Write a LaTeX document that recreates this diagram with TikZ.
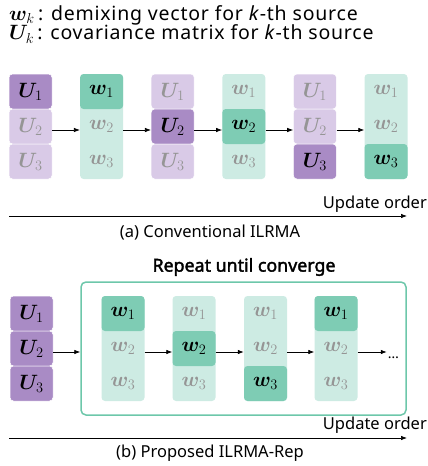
\documentclass[tikz,border=0pt]{standalone}
\usepackage{amsmath,bm}
\usepackage{fontspec}
\setmainfont{Noto Sans}
\newfontfamily\legfont{Noto Sans}[LetterSpace=4]
\newfontfamily\repfont{Noto Sans}[FakeBold=2]
\usetikzlibrary{arrows.meta}
\definecolor{pdark}{HTML}{A98BC5}
\definecolor{plight}{HTML}{D9CAE7}
\definecolor{tdark}{HTML}{7ECCB4}
\definecolor{tlight}{HTML}{CDEBE3}
\definecolor{tframe}{HTML}{6DC7AA}
\definecolor{tgray}{HTML}{959595}
\newcommand\mathcell[1]{{\fontsize{22}{22}\selectfont$#1$}}
\newcommand\legmath[1]{{\fontsize{22}{22}\selectfont$#1$}}
\tikzset{
  cellbase/.style={minimum width=43pt, minimum height=35pt, inner sep=0pt, rounded corners=3.5pt},
  ucell/.style={cellbase, draw=white, line width=0.5pt},
  wbg/.style={fill=tlight, rounded corners=3.5pt, minimum width=43pt, minimum height=105pt, inner sep=0pt},
  arr/.style={-{Latex[length=6pt,width=4.5pt]}, line width=0.7pt},
  txt/.style={font=\fontsize{16.5}{18}\selectfont, inner sep=0pt},
  legtxt/.style={font=\legfont\fontsize{19.5}{21}\selectfont, inner sep=0pt},
}
\newcommand\ucolumn[4]{%
  \foreach \i in {1,2,3}{%
    \ifnum\i=#4\relax \def\cf{pdark}\def\tc{black}\else
      \ifnum#4=9\relax \def\cf{pdark}\def\tc{black}\else\def\cf{plight}\def\tc{tgray}\fi\fi
    \node[ucell, fill=\cf, text=\tc] (#1-\i) at ({#2},{#3+17.5+35*(\i-1)}) {\mathcell{\bm{U}_{\i}}};
  }}
\newcommand\wcolumn[4]{%
  \node[wbg] (#1) at ({#2},{#3+52.5}) {};
  \foreach \i in {1,2,3}{%
    \ifnum\i=#4\relax
      \node[cellbase, fill=tdark, text=black] (#1-\i) at ({#2},{#3+17.5+35*(\i-1)}) {\mathcell{\bm{w}_{\i}}};
    \else
      \node[cellbase, text=tgray] (#1-\i) at ({#2},{#3+17.5+35*(\i-1)}) {\mathcell{\bm{w}_{\i}}};
    \fi}}
\begin{document}
\begin{tikzpicture}[x=1pt,y=-1pt]
\useasboundingbox (0,0) rectangle (428,466);
% legend
\node[legtxt, anchor=west] (leg1) at (9,15) {\legmath{\bm{w}_k}\,: demixing vector for \textit{k}-th source};
\node[legtxt, anchor=west] (leg2) at (9,34) {\legmath{\bm{U}_k}\,: covariance matrix for \textit{k}-th source};
% (a)
\ucolumn{a1}{30.5}{74}{1}
\wcolumn{a2}{101.6}{74}{1}
\ucolumn{a3}{172.7}{74}{2}
\wcolumn{a4}{243.8}{74}{2}
\ucolumn{a5}{314.9}{74}{3}
\wcolumn{a6}{386}{74}{3}
\foreach \p/\q in {a1/a2,a2/a3,a3/a4,a4/a5,a5/a6}
  \draw[arr] ([yshift=-3.5pt]\p-2.east) -- ([yshift=-3.5pt]\q-2.west);
\coordinate (oa-s) at (9,216);
\coordinate (oa-e) at (407,216);
\draw[arr] (oa-s) -- (oa-e);
\node[txt, anchor=east] (oa-t) at (427,204) {Update order};
\node[txt] (cap-a) at (210,233) {(a) Conventional ILRMA};
% (b)
\node[txt, font=\repfont\fontsize{17.8}{18}\selectfont] (rep) at (244,267) {Repeat until converge};
\node[draw=tframe, line width=1.5pt, rounded corners=5pt, minimum width=325pt, minimum height=133pt, inner sep=0pt] (loop) at (243.5,348.5) {};
\ucolumn{b0}{31.5}{296}{9}
\wcolumn{b1}{123}{296}{1}
\wcolumn{b2}{194}{296}{2}
\wcolumn{b3}{265.5}{296}{3}
\wcolumn{b4}{336}{296}{1}
\node[inner sep=1pt, anchor=base] (dots) at (393.5,358) {\fontsize{14}{14}\selectfont\ldots};
\draw[arr] ([yshift=-3.5pt]b0-2.east) -- ([yshift=-3.5pt]b0-2.east -| loop.west);
\foreach \p/\q in {b1/b2,b2/b3,b3/b4}
  \draw[arr] ([yshift=-3.5pt]\p-2.east) -- ([yshift=-3.5pt]\q-2.west);
\draw[arr] ([yshift=-3.5pt]b4-2.east) -- ([yshift=-3.5pt]b4-2.east -| dots.west);
\coordinate (ob-s) at (9,438);
\coordinate (ob-e) at (407,438);
\draw[arr] (ob-s) -- (ob-e);
\node[txt, anchor=east] (ob-t) at (427,425) {Update order};
\node[txt] (cap-b) at (210,453) {(b) Proposed ILRMA-Rep};
\end{tikzpicture}
\end{document}
